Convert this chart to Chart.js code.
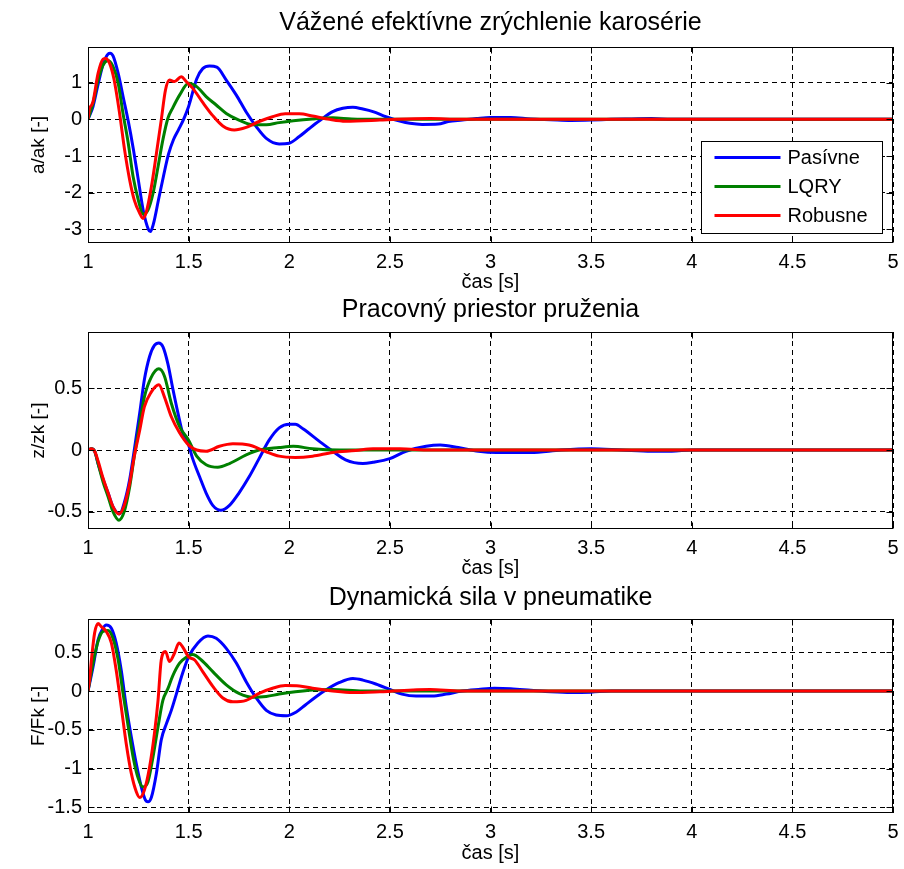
<!DOCTYPE html>
<html><head><meta charset="utf-8">
<script src="https://cdn.jsdelivr.net/npm/chart.js@4.4.0/dist/chart.umd.min.js"></script>
<style>
html,body{margin:0;padding:0;background:#fff;}
#wrap{position:relative;width:904px;height:869px;overflow:hidden;background:#fff;}
canvas{position:absolute;left:0;}
</style></head><body>
<div id="wrap">
<canvas id="c1" width="904" height="300" style="top:0px"></canvas>
<canvas id="c2" width="904" height="300" style="top:286px"></canvas>
<canvas id="c3" width="904" height="297" style="top:572px"></canvas>
</div>
<script>
// ---------- labels ----------
const seriesNames = ['Pasívne', 'LQRY', 'Robusne'];
const titles = ['Vážené efektívne zrýchlenie karosérie', 'Pracovný priestor pruženia', 'Dynamická sila v pneumatike'];
const yLabels = ['a/ak [-]', 'z/zk [-]', 'F/Fk [-]'];
const xLabel = 'čas [s]';
const xTicks = [1, 1.5, 2, 2.5, 3, 3.5, 4, 4.5, 5];
const yTicksA = [-3, -2, -1, 0, 1];
const yTicksZ = [-0.5, 0, 0.5];
const yTicksF = [-1.5, -1, -0.5, 0, 0.5];

// ---------- plot 1: a/ak ----------
const tPasA = [1,1.025,1.05,1.075,1.1,1.11,1.125,1.15,1.175,1.2,1.225,1.25,1.275,1.3,1.31,1.325,1.35,1.375,1.4,1.425,1.45,1.475,1.5,1.54,1.57,1.604,1.64,1.687,1.737,1.786,1.836,1.886,1.95,2.0,2.05,2.1,2.15,2.216,2.266,2.316,2.366,2.416,2.48,2.53,2.6,2.66,2.74,2.79,2.86,2.93,3.0,3.1,3.2,3.3,3.4,3.5,3.6,3.7,3.8,3.9,4.0,5.0];
const pasA  = [0,0.35,0.95,1.5,1.78,1.8,1.72,1.25,0.6,-0.05,-0.8,-1.65,-2.5,-3.0,-3.06,-2.85,-2.2,-1.55,-0.95,-0.55,-0.28,0,0.35,1.1,1.38,1.45,1.42,1.07,0.66,0.2,-0.2,-0.52,-0.67,-0.65,-0.47,-0.25,-0.04,0.21,0.3,0.33,0.28,0.21,0.07,-0.02,-0.11,-0.14,-0.13,-0.06,-0.02,0.02,0.05,0.05,0.01,-0.01,-0.03,-0.02,0,0.01,0.02,0,0,0];
const tLqA = [1,1.025,1.05,1.075,1.1,1.124,1.15,1.174,1.2,1.224,1.25,1.273,1.298,1.323,1.348,1.372,1.397,1.42,1.455,1.5,1.54,1.587,1.637,1.687,1.75,1.82,1.886,1.95,2.02,2.116,2.216,2.31,2.45,5.0];
const lqA  = [0,0.44,1.07,1.48,1.6,1.44,0.98,0.16,-0.65,-1.56,-2.2,-2.58,-2.47,-2.02,-1.29,-0.56,0.03,0.3,0.66,0.98,0.89,0.62,0.39,0.16,-0.02,-0.15,-0.15,-0.09,-0.04,0.01,0.04,0.01,0,0];
const tRobA = [1,1.008,1.017,1.025,1.05,1.075,1.088,1.107,1.13,1.157,1.182,1.207,1.23,1.257,1.273,1.29,1.315,1.34,1.364,1.385,1.405,1.43,1.463,1.488,1.52,1.57,1.62,1.67,1.727,1.786,1.85,1.917,1.98,2.05,2.116,2.2,2.28,2.45,2.53,2.7,2.85,3.0,5.0];
const robA  = [0,0.3,0.38,0.48,1.25,1.64,1.66,1.53,1.07,0.16,-0.84,-1.65,-2.2,-2.56,-2.7,-2.52,-1.84,-0.93,-0.02,0.8,1.07,1.03,1.16,1.03,0.85,0.46,0.1,-0.18,-0.29,-0.22,-0.06,0.07,0.15,0.15,0.09,0,-0.05,-0.02,0,0.02,0,0,0];

// ---------- plot 2: z/zk ----------
const tPasZ = [1,1.017,1.033,1.05,1.075,1.1,1.124,1.157,1.18,1.207,1.23,1.257,1.28,1.306,1.33,1.352,1.372,1.397,1.42,1.447,1.47,1.5,1.52,1.555,1.587,1.62,1.66,1.703,1.75,1.8,1.85,1.9,1.95,2.0,2.03,2.07,2.15,2.216,2.28,2.366,2.416,2.5,2.58,2.68,2.75,2.84,2.94,3.03,3.2,3.35,3.5,3.65,3.8,3.9,4.0,5.0];
const pasZ  = [0,0.01,-0.01,-0.11,-0.24,-0.35,-0.46,-0.52,-0.43,-0.24,0,0.3,0.57,0.76,0.85,0.87,0.84,0.7,0.51,0.3,0.14,0.04,-0.07,-0.22,-0.35,-0.45,-0.49,-0.45,-0.35,-0.22,-0.07,0.08,0.18,0.21,0.21,0.17,0.07,-0.01,-0.08,-0.11,-0.1,-0.07,-0.01,0.03,0.04,0.02,-0.01,-0.02,-0.02,0,0.01,0,-0.01,-0.01,0,0];
const tLqZ = [1,1.017,1.033,1.05,1.075,1.1,1.124,1.154,1.18,1.207,1.23,1.257,1.28,1.314,1.352,1.38,1.414,1.455,1.5,1.54,1.587,1.645,1.703,1.786,1.85,1.95,2.02,2.116,2.25,2.5,5.0];
const lqZ  = [0,0.01,-0.01,-0.11,-0.26,-0.38,-0.5,-0.57,-0.5,-0.3,-0.05,0.22,0.43,0.59,0.66,0.6,0.38,0.19,0.08,-0.05,-0.12,-0.14,-0.11,-0.04,0,0.02,0.03,0.01,0,0,0];
const tRobZ = [1,1.017,1.033,1.05,1.075,1.1,1.124,1.154,1.18,1.207,1.23,1.257,1.28,1.314,1.352,1.38,1.414,1.455,1.5,1.54,1.587,1.653,1.72,1.8,1.88,1.95,2.03,2.116,2.216,2.33,2.416,2.55,2.7,5.0];
const robZ  = [0,0.01,-0.01,-0.09,-0.23,-0.35,-0.46,-0.52,-0.45,-0.27,-0.05,0.16,0.35,0.47,0.53,0.43,0.27,0.14,0.04,0,-0.01,0.03,0.05,0.04,-0.01,-0.05,-0.06,-0.05,-0.02,-0.005,0.01,0.01,0,0];

// ---------- plot 3: F/Fk ----------
const tPasF = [1,1.025,1.05,1.075,1.09,1.116,1.14,1.165,1.19,1.215,1.24,1.265,1.286,1.298,1.315,1.34,1.364,1.39,1.414,1.44,1.47,1.5,1.546,1.596,1.637,1.687,1.737,1.786,1.836,1.886,1.935,1.985,2.035,2.08,2.13,2.18,2.25,2.316,2.366,2.43,2.5,2.56,2.63,2.71,2.78,2.86,2.94,3.02,3.1,3.2,3.3,3.4,3.5,3.6,5.0];
const pasF  = [0,0.31,0.66,0.81,0.85,0.81,0.62,0.27,-0.2,-0.59,-0.94,-1.24,-1.41,-1.43,-1.37,-1.06,-0.63,-0.42,-0.25,-0.03,0.23,0.44,0.62,0.71,0.68,0.55,0.36,0.12,-0.09,-0.25,-0.31,-0.32,-0.27,-0.18,-0.08,0.01,0.11,0.16,0.14,0.09,0.02,-0.04,-0.065,-0.065,-0.04,0,0.02,0.035,0.03,0.01,-0.01,-0.02,-0.015,0,0];
const tLqF = [1,1.025,1.05,1.075,1.1,1.124,1.15,1.174,1.2,1.224,1.25,1.273,1.298,1.323,1.348,1.372,1.397,1.42,1.455,1.49,1.52,1.563,1.62,1.687,1.75,1.82,1.886,1.95,2.03,2.116,2.216,2.366,5.0];
const lqF  = [0,0.36,0.64,0.77,0.78,0.68,0.4,-0.03,-0.46,-0.85,-1.13,-1.24,-1.17,-0.85,-0.46,-0.12,0.03,0.19,0.36,0.44,0.47,0.4,0.25,0.08,-0.03,-0.08,-0.07,-0.04,-0.01,0.013,0.02,0,0];
const tRobF = [1,1.008,1.017,1.033,1.05,1.066,1.09,1.116,1.14,1.165,1.19,1.215,1.24,1.257,1.28,1.306,1.33,1.348,1.364,1.385,1.405,1.43,1.452,1.47,1.5,1.53,1.57,1.62,1.67,1.72,1.786,1.85,1.917,1.98,2.05,2.116,2.216,2.316,2.45,2.7,2.85,5.0];
const robF  = [0,0.15,0.4,0.75,0.87,0.83,0.77,0.62,0.27,-0.2,-0.68,-1.06,-1.3,-1.375,-1.28,-0.98,-0.55,-0.12,0.4,0.51,0.38,0.49,0.62,0.57,0.44,0.4,0.25,0.06,-0.09,-0.14,-0.12,-0.03,0.035,0.07,0.065,0.035,0,-0.02,-0.01,0.02,0,0];

// ---------- styling ----------
const FONT = '"Liberation Sans", Arial, Helvetica, sans-serif';
const COLORS = ['#0000ff', '#008000', '#ff0000'];

function pts(t, v) { return t.map((x, i) => ({ x: x, y: v[i] })); }

const framePlugin = {
  id: 'frame',
  afterDatasetsDraw(chart) {
    const { ctx, chartArea: a, scales: { x, y } } = chart;
    ctx.save();
    ctx.setLineDash([]);
    ctx.strokeStyle = '#000';
    ctx.lineWidth = 1;
    const L = Math.round(a.left) + 0.5, R = Math.round(a.right) - 0.5;
    const T = Math.round(a.top) + 0.5, B = Math.round(a.bottom) - 0.5;
    ctx.strokeRect(L, T, R - L, B - T);
    ctx.beginPath();
    x.ticks.forEach(tk => {
      const px = Math.round(x.getPixelForValue(tk.value)) + 0.5;
      ctx.moveTo(px, B); ctx.lineTo(px, B - 6);
      ctx.moveTo(px, T); ctx.lineTo(px, T + 6);
    });
    y.ticks.forEach(tk => {
      const py = Math.round(y.getPixelForValue(tk.value)) + 0.5;
      ctx.moveTo(L, py); ctx.lineTo(L + 6, py);
      ctx.moveTo(R, py); ctx.lineTo(R - 6, py);
    });
    ctx.stroke();
    ctx.restore();
  }
};

const boxLegendPlugin = {
  id: 'boxLegend',
  afterDraw(chart, args, opts) {
    if (!opts || !opts.show) return;
    const { ctx, chartArea: a } = chart;
    const w = 181, h = 92;
    const bx = Math.round(a.right) - 11 - w + 0.5, by = Math.round(a.top) + 94 + 0.5;
    ctx.save();
    ctx.setLineDash([]);
    ctx.fillStyle = '#fff';
    ctx.fillRect(bx, by, w, h);
    ctx.strokeStyle = '#000';
    ctx.lineWidth = 1;
    ctx.strokeRect(bx, by, w, h);
    ctx.font = '20px ' + FONT;
    ctx.textBaseline = 'middle';
    ctx.textAlign = 'left';
    chart.data.datasets.forEach((ds, i) => {
      const yy = by + 16 + i * 29;
      ctx.strokeStyle = ds.borderColor;
      ctx.lineWidth = 3;
      ctx.beginPath();
      ctx.moveTo(bx + 13, yy); ctx.lineTo(bx + 79, yy);
      ctx.stroke();
      ctx.fillStyle = '#000';
      ctx.fillText(ds.label, bx + 86, yy + 1);
    });
    ctx.restore();
  }
};

function makeChart(id, cfg) {
  const canvas = document.getElementById(id);
  const H = canvas.height;
  const datasets = cfg.series.map((s, i) => ({
    label: seriesNames[i],
    data: pts(s[0], s[1]),
    borderColor: COLORS[i],
    backgroundColor: COLORS[i],
    borderWidth: 3,
    pointRadius: 0,
    fill: false,
    cubicInterpolationMode: 'monotone',
    order: 2 - i
  }));
  return new Chart(canvas, {
    type: 'line',
    data: { datasets },
    plugins: [framePlugin, boxLegendPlugin],
    options: {
      responsive: false,
      animation: false,
      devicePixelRatio: 1,
      parsing: false,
      normalized: true,
      layout: { padding: { left: 0, right: 11, top: 0, bottom: 0 } },
      plugins: {
        legend: { display: false },
        tooltip: { enabled: false },
        boxLegend: { show: !!cfg.legend },
        title: {
          display: true, text: cfg.title, fullSize: false, color: '#000',
          font: { family: FONT, size: 25, weight: 'normal' },
          padding: { top: cfg.tp[0], bottom: cfg.tp[1] }
        }
      },
      scales: {
        x: {
          type: 'linear', min: 1, max: 5,
          afterBuildTicks: s => { s.ticks = xTicks.map(v => ({ value: v })); },
          afterFit: s => { s.height = H - cfg.bottom; s.paddingLeft = 0; s.paddingRight = 0; },
          ticks: { color: '#000', font: { family: FONT, size: 20 }, padding: 7, maxRotation: 0, autoSkip: false, callback: v => String(v) },
          grid: { color: '#000', lineWidth: 1, drawTicks: false },
          border: { display: false, dash: [5, 4] },
          title: { display: true, text: xLabel, color: '#000', font: { family: FONT, size: 20 }, padding: { top: 0, bottom: cfg.xpb } }
        },
        y: {
          type: 'linear', min: cfg.ymin, max: cfg.ymax,
          afterBuildTicks: s => { s.ticks = cfg.yticks.map(v => ({ value: v })); },
          afterFit: s => { s.width = 88; },
          ticks: { color: '#000', font: { family: FONT, size: 20 }, padding: 6, autoSkip: false, callback: v => String(v) },
          grid: { color: '#000', lineWidth: 1, drawTicks: false },
          border: { display: false, dash: [5, 4] },
          title: { display: true, text: cfg.ylabel, color: '#000', font: { family: FONT, size: 19 }, padding: { top: 27, bottom: 0 } }
        }
      }
    }
  });
}

makeChart('c1', {
  title: titles[0], ylabel: yLabels[0], ymin: -3.37, ymax: 1.97, yticks: yTicksA,
  series: [[tPasA, pasA], [tLqA, lqA], [tRobA, robA]],
  tp: [8, 9], bottom: 243, xpb: 6, legend: true
});
makeChart('c2', {
  title: titles[1], ylabel: yLabels[1], ymin: -0.642, ymax: 0.959, yticks: yTicksZ,
  series: [[tPasZ, pasZ], [tLqZ, lqZ], [tRobZ, robZ]],
  tp: [9, 7], bottom: 243, xpb: 6, legend: false
});
makeChart('c3', {
  title: titles[2], ylabel: yLabels[2], ymin: -1.574, ymax: 0.929, yticks: yTicksF,
  series: [[tPasF, pasF], [tLqF, lqF], [tRobF, robF]],
  tp: [11, 6], bottom: 241, xpb: 4, legend: false
});
</script>
</body></html>
